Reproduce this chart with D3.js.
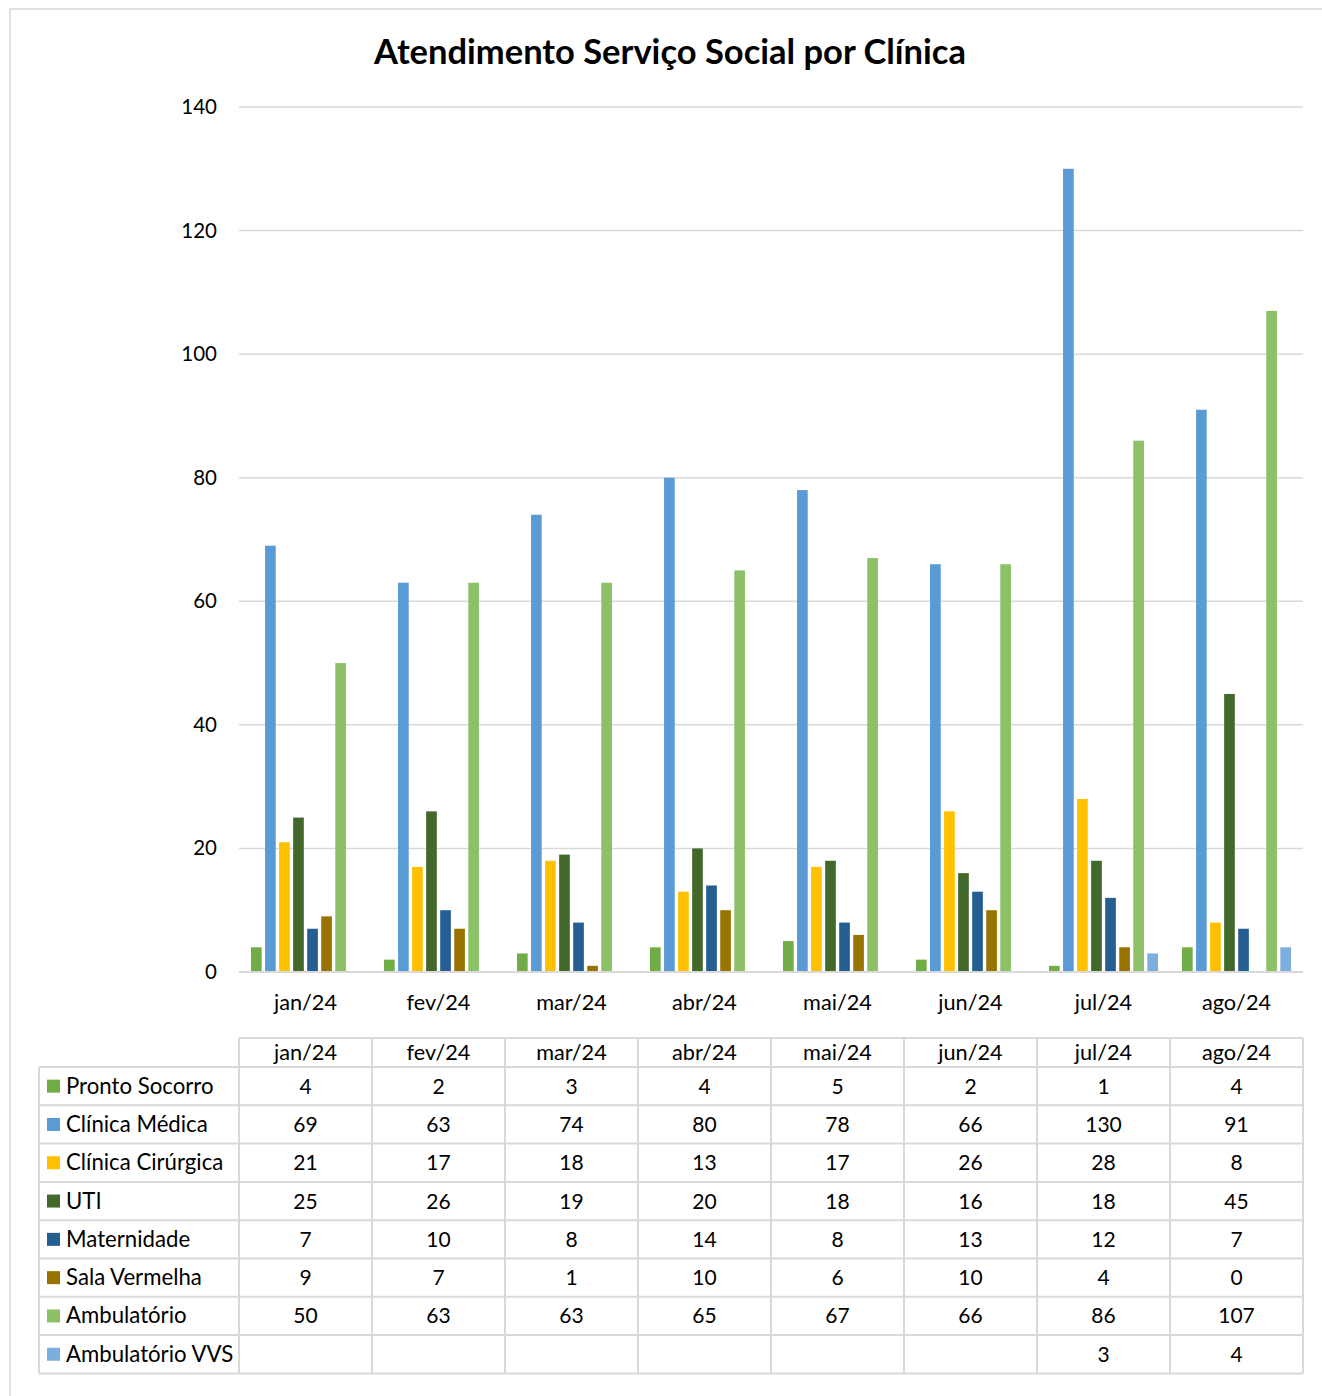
<!DOCTYPE html>
<html><head><meta charset="utf-8">
<script src="https://cdn.jsdelivr.net/npm/d3@7"></script>
<style>body{margin:0;background:#fff;} svg{display:block;}</style>
</head><body>
<script>
const months = ["jan/24","fev/24","mar/24","abr/24","mai/24","jun/24","jul/24","ago/24"];
const seriesNames = ["Pronto Socorro","Clínica Médica","Clínica Cirúrgica","UTI","Maternidade","Sala Vermelha","Ambulatório","Ambulatório VVS"];
const seriesColors = ["#70AD47","#5B9BD5","#FFC000","#43682B","#255E91","#997300","#8CC168","#7CAFDD"];
const prontoSocorro = [4,2,3,4,5,2,1,4];
const clinicaMedica = [69,63,74,80,78,66,130,91];
const clinicaCirurgica = [21,17,18,13,17,26,28,8];
const uti = [25,26,19,20,18,16,18,45];
const maternidade = [7,10,8,14,8,13,12,7];
const salaVermelha = [9,7,1,10,6,10,4,0];
const ambulatorio = [50,63,63,65,67,66,86,107];
const ambulatorioVVS = [null,null,null,null,null,null,3,4];
const yTicks = [0,20,40,60,80,100,120,140];
const chartTitle = "Atendimento Serviço Social por Clínica";

const values = [prontoSocorro,clinicaMedica,clinicaCirurgica,uti,maternidade,salaVermelha,ambulatorio,ambulatorioVVS];

(function(){
const W=1322,H=1396;
const svg=d3.select("body").append("svg").attr("width",W).attr("height",H);
const FONT="Lato, 'Open Sans', sans-serif";
svg.append("rect").attr("x",10).attr("y",9).attr("width",W+10).attr("height",H+10).attr("fill","#fff").attr("stroke","#d9d9d9").attr("stroke-width",1.5);

const pL=239,pR=1303,pT=107,pB=972;
const x=d3.scaleBand().domain(months).range([pL,pR]).padding(0);
const bw=x.bandwidth();
const xs=d3.scaleBand().domain(d3.range(seriesNames.length)).range([12,bw-12]).paddingInner(0.24).paddingOuter(0);
const y=d3.scaleLinear().domain([0,140]).range([pB,pT]);

svg.append("text").attr("x",670).attr("y",64).attr("text-anchor","middle")
  .attr("font-family",FONT).attr("font-weight","bold").attr("font-size",34.5).attr("fill","#000").text(chartTitle);

svg.append("g").selectAll("line").data(yTicks.slice(1)).join("line")
  .attr("x1",pL).attr("x2",pR).attr("y1",d=>y(d)).attr("y2",d=>y(d))
  .attr("stroke","#d9d9d9").attr("stroke-width",1.5);

const yAxis=d3.axisLeft(y).tickValues(yTicks).tickSize(0).tickPadding(22);
const ga=svg.append("g").attr("transform",`translate(${pL},0)`).call(yAxis);
ga.select(".domain").remove();
ga.selectAll("text").attr("font-family",FONT).attr("font-size",20.5).attr("fill","#000");

const groups=svg.append("g").selectAll("g").data(months).join("g").attr("transform",d=>`translate(${x(d)},0)`);
groups.selectAll("rect").data((m,i)=>values.map((s,k)=>({k,v:s[i]})).filter(d=>d.v!=null&&d.v>0)).join("rect")
  .attr("x",d=>xs(d.k)).attr("width",xs.bandwidth())
  .attr("y",d=>y(d.v)).attr("height",d=>y(0)-y(d.v))
  .attr("fill",d=>seriesColors[d.k]);

svg.append("line").attr("x1",pL).attr("x2",pR).attr("y1",y(0)).attr("y2",y(0)).attr("stroke","#d9d9d9").attr("stroke-width",2);

const xAxis=d3.axisBottom(x).tickSize(0).tickPadding(23);
const gx=svg.append("g").attr("transform",`translate(0,${pB})`).call(xAxis);
gx.select(".domain").remove();
gx.selectAll("text").attr("font-family",FONT).attr("font-size",21.7).attr("fill","#000");

const tTop=1038, hdrH=29, rowH=38.3, legL=39;
const tg=svg.append("g");
const lineC="#d9d9d9", lw=2;
const nRows=seriesNames.length;
const tBot=tTop+hdrH+nRows*rowH;
tg.selectAll("text.h").data(months).join("text").attr("class","h")
  .attr("x",d=>x(d)+bw/2).attr("y",tTop+hdrH/2+7).attr("text-anchor","middle")
  .attr("font-family",FONT).attr("font-size",21.7).attr("fill","#000").text(d=>d);
tg.append("line").attr("x1",pL).attr("x2",pR).attr("y1",tTop).attr("y2",tTop).attr("stroke",lineC).attr("stroke-width",lw);
d3.range(nRows+1).forEach(r=>{
  const yy=tTop+hdrH+r*rowH;
  tg.append("line").attr("x1",legL).attr("x2",pR).attr("y1",yy).attr("y2",yy).attr("stroke",lineC).attr("stroke-width",lw);
});
tg.append("line").attr("x1",legL).attr("x2",legL).attr("y1",tTop+hdrH).attr("y2",tBot).attr("stroke",lineC).attr("stroke-width",lw);
months.forEach(m=>{
  tg.append("line").attr("x1",x(m)).attr("x2",x(m)).attr("y1",tTop).attr("y2",tBot).attr("stroke",lineC).attr("stroke-width",lw);
});
tg.append("line").attr("x1",pR).attr("x2",pR).attr("y1",tTop).attr("y2",tBot).attr("stroke",lineC).attr("stroke-width",lw);
seriesNames.forEach((name,k)=>{
  const cy=tTop+hdrH+k*rowH+rowH/2;
  tg.append("rect").attr("x",47).attr("y",cy-6.5).attr("width",13).attr("height",13).attr("fill",seriesColors[k]);
  tg.append("text").attr("x",66).attr("y",cy+7.5).attr("font-family",FONT).attr("font-size",22.2).attr("fill","#000").text(name);
  months.forEach((m,i)=>{
    const v=values[k][i];
    if(v==null) return;
    tg.append("text").attr("x",x(m)+bw/2).attr("y",cy+7.5).attr("text-anchor","middle")
      .attr("font-family",FONT).attr("font-size",21).attr("fill","#000").text(v);
  });
});
})();
</script>
</body></html>
